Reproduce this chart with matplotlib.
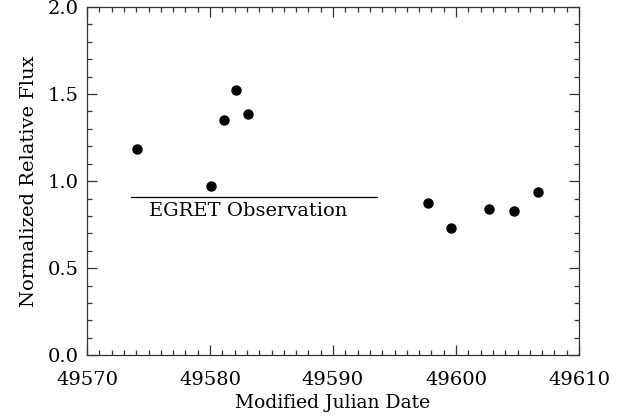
import numpy as np
import matplotlib.pyplot as plt
from matplotlib.ticker import MultipleLocator

# optical monitoring, normalized flux
mjd = [49574.1, 49580.1, 49581.1, 49582.1, 49583.1,
       49597.7, 49599.6, 49602.7, 49604.7, 49606.7]
flux = [1.184, 0.970, 1.349, 1.523, 1.383,
        0.874, 0.729, 0.840, 0.828, 0.937]

# EGRET pointing window
egret_start = 49573.6
egret_end = 49593.6
egret_level = 0.91

plt.rcParams['font.family'] = 'DejaVu Serif'

fig = plt.figure(figsize=(6.23, 4.2), dpi=100)
ax = fig.add_axes([87 / 623, 1 - 355.3 / 420, 492 / 623, 348.3 / 420])

ax.plot(mjd, flux, 'o', color='black', markersize=6.5)
ax.plot([egret_start, egret_end], [egret_level, egret_level], color='black', lw=0.9)
ax.text((egret_start + egret_end) / 2 - 0.5, egret_level - 0.03, 'EGRET Observation',
        ha='center', va='top', fontsize=14)

ax.set_xlim(49570, 49610)
ax.set_ylim(0.0, 2.0)
ax.xaxis.set_major_locator(MultipleLocator(10))
ax.xaxis.set_minor_locator(MultipleLocator(1))
ax.yaxis.set_major_locator(MultipleLocator(0.5))
ax.yaxis.set_minor_locator(MultipleLocator(0.1))
ax.xaxis.set_major_formatter(plt.FormatStrFormatter('%d'))
ax.yaxis.set_major_formatter(plt.FormatStrFormatter('%.1f'))

ax.tick_params(which='both', direction='in', top=True, right=True, width=0.9,
               labelsize=14, color='#333333')
ax.tick_params(which='major', length=7.2, pad=11)
ax.tick_params(which='minor', length=3.4)
ax.tick_params(axis='y', pad=6)
for s in ax.spines.values():
    s.set_linewidth(0.9)
    s.set_color('#333333')

ax.set_xlabel('Modified Julian Date', fontsize=13.5, labelpad=4)
ax.set_ylabel('Normalized Relative Flux', fontsize=14, labelpad=7)

fig.savefig('out.png', dpi=100)
